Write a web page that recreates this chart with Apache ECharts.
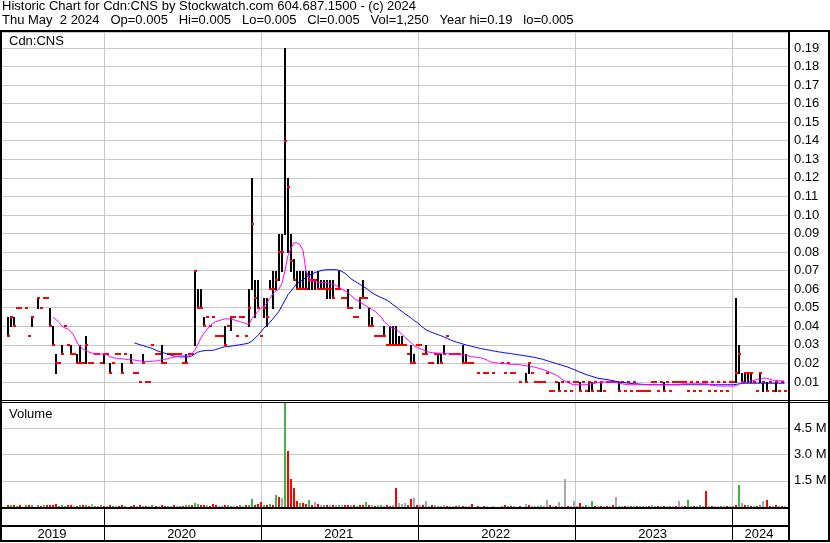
<!DOCTYPE html>
<html>
<head>
<meta charset="utf-8">
<script src="https://cdn.jsdelivr.net/npm/echarts@6/dist/echarts.min.js"></script>
<style>
  html, body { margin: 0; padding: 0; background: #fff; }
  #chart { width: 830px; height: 543px; }
</style>
</head>
<body>
<div id="chart"></div>
<script>
// ---- Weekly price history for Cdn:CNS (one entry per week, null = no trades) ----
const firstWeek = Date.UTC(2019, 4, 9);
const axisStart = Date.UTC(2019, 4, 9);
const axisEnd = Date.UTC(2024, 4, 10);

const high = [
  null,null,.045,.045,.045,.05,.05,null,.05,.035,
  .045,null,.055,.05,.055,.055,.05,.04,.025,.02,
  .03,.04,.03,.03,.025,.025,.03,.02,.035,.02,
  .02,.025,.025,.02,.025,.025,.02,.02,.025,.025,
  .02,.025,null,.025,.015,.015,.01,.025,.01,.01,
  .03,.025,.025,.03,.02,.025,.025,.025,.025,.025,
  .02,.025,.025,.025,.07,.06,.06,.045,.045,.04,
  .045,.035,.035,.035,.04,.04,.045,.045,.035,.045,
  .045,.035,.06,.12,.065,.065,.035,.055,.055,.065,
  .07,.07,.09,.09,.19,.12,.09,.076,.07,.07,
  .07,.07,.07,.07,.065,.07,.065,.065,.065,.065,
  .065,.06,.07,.055,.055,.06,.05,.045,.045,.055,
  .065,.055,.05,.045,.035,.035,.035,.04,.03,.04,
  .04,.04,.035,.035,.03,.025,.03,.025,.03,.03,
  .025,.03,.02,.02,.025,.025,.025,.03,.035,.025,
  .025,.025,.025,.03,.025,.02,.02,null,.015,null,
  .015,.015,null,.015,null,null,.02,.015,.02,.015,
  .015,null,.01,null,.015,.02,.015,.01,.01,.01,
  .01,.015,.005,.005,.01,.01,.01,.005,.01,.005,
  .01,.01,.01,.01,.005,.01,.01,.01,.005,.01,
  .005,.01,.01,.01,.01,.01,.01,.005,.01,.005,
  .01,.005,.005,.005,.005,.005,.01,.01,.005,.01,
  .01,.01,.005,.01,.01,.01,.01,.01,.005,.01,
  .005,.01,.005,.01,.01,.005,.01,.005,.01,.005,
  .01,.005,.01,.01,.055,.03,.015,.015,.015,.015,
  .01,.005,.015,.01,.01,.01,.005,.01,.005,.01,.005
];
const low = [
  null,null,.035,.04,.04,.05,.05,null,.05,.035,
  .04,null,.05,.05,.055,.055,.04,.03,.015,.02,
  .025,.04,.03,.025,.025,.02,.02,.02,.02,.02,
  .02,.025,.025,.02,.02,.025,.015,.02,.025,.025,
  .015,.025,null,.02,.015,.015,.01,.02,.01,.01,
  .03,.025,.025,.02,.02,.025,.025,.025,.025,.025,
  .02,.02,.025,.025,.03,.05,.05,.04,.045,.04,
  .045,.035,.035,.035,.03,.04,.038,.045,.035,.045,
  .045,.035,.04,.06,.045,.05,.035,.045,.04,.06,
  .05,.06,.065,.07,.09,.08,.07,.065,.06,.06,
  .06,.06,.06,.06,.06,.06,.06,.06,.055,.055,
  .055,.06,.06,.055,.055,.05,.05,.045,.045,.05,
  .055,.055,.04,.04,.035,.035,.035,.035,.03,.03,
  .03,.03,.03,.03,.03,.025,.02,.02,.03,.03,
  .025,.025,.02,.02,.025,.02,.02,.025,.035,.025,
  .025,.025,.025,.02,.02,.02,.02,null,.015,null,
  .015,.015,null,.015,null,null,.02,.015,.02,.015,
  .015,null,.01,null,.01,.015,.015,.01,.01,.01,
  .01,.015,.005,.005,.01,.005,.01,.005,.01,.005,
  .01,.01,.005,.01,.005,.005,.005,.01,.005,.005,
  .005,.01,.01,.01,.01,.005,.01,.005,.01,.005,
  .01,.005,.005,.005,.005,.005,.01,.01,.005,.01,
  .005,.01,.005,.01,.01,.01,.01,.01,.005,.01,
  .005,.01,.005,.01,.01,.005,.01,.005,.01,.005,
  .01,.005,.01,.01,.01,.015,.01,.01,.01,.01,
  .01,.005,.01,.005,.005,.01,.005,.005,.005,.01,.005
];
const close = [
  null,null,.035,.045,.04,.05,.05,null,.05,.035,
  .045,null,.055,.05,.055,.055,.04,.03,.02,.02,
  .025,.04,.03,.025,.025,.02,.02,.02,.03,.02,
  .02,.025,.025,.02,.025,.025,.015,.02,.025,.025,
  .015,.025,null,.02,.015,.015,.01,.02,.01,.01,
  .03,.025,.025,.02,.02,.025,.025,.025,.025,.025,
  .02,.02,.025,.025,.07,.05,.05,.04,.045,.04,
  .045,.035,.035,.035,.03,.04,.045,.045,.035,.045,
  .045,.035,.05,.095,.055,.05,.035,.05,.045,.06,
  .06,.065,.08,.08,.14,.115,.075,.065,.06,.06,
  .06,.06,.065,.065,.065,.06,.06,.06,.06,.06,
  .055,.06,.06,.055,.055,.05,.05,.045,.045,.055,
  .055,.055,.04,.04,.035,.035,.035,.035,.03,.03,
  .03,.03,.03,.03,.03,.025,.02,.02,.03,.03,
  .025,.025,.02,.02,.025,.025,.02,.025,.035,.025,
  .025,.025,.025,.02,.02,.02,.02,null,.015,null,
  .015,.015,null,.015,null,null,.02,.015,.02,.015,
  .015,null,.01,null,.01,.02,.015,.01,.01,.01,
  .01,.015,.005,.005,.01,.005,.01,.005,.01,.005,
  .01,.01,.005,.01,.005,.01,.005,.01,.005,.01,
  .005,.01,.01,.01,.01,.005,.01,.005,.01,.005,
  .01,.005,.005,.005,.005,.005,.01,.01,.005,.01,
  .005,.01,.005,.01,.01,.01,.01,.01,.005,.01,
  .005,.01,.005,.01,.01,.005,.01,.005,.01,.005,
  .01,.005,.01,.01,.015,.025,.01,.015,.015,.015,
  .01,.005,.015,.01,.005,.01,.005,.01,.005,.01,.005
];

// Short moving average (magenta)
const maShort = [
  null,null,null,null,null,null,null,null,null,null,
  null,null,null,null,null,null,null,.045,.0435,.042,
  .040,.039,.0385,.037,.0345,.031,.029,.0275,.027,.026,
  .0255,.025,.025,.025,.025,.0245,.0235,.023,.0228,.0225,
  .0225,.0222,.022,.022,.0218,.0215,.0213,.021,.021,.021,
  .0212,.0213,.0215,.022,.0222,.0225,.023,.0232,.0238,.024,
  .024,.024,.024,.025,.027,.030,.0335,.036,.038,.040,
  .0415,.0425,.043,.0435,.044,.044,.0438,.0435,.043,.0425,
  .042,.0415,.041,.044,.046,.048,.0495,.051,.0525,.055,
  .0575,.059,.060,.063,.070,.078,.082,.085,.085,.084,
  .081,.070,.066,.064,.064,.0638,.0636,.0635,.0635,.063,
  .0625,.062,.061,.060,.059,.058,.0565,.055,.054,.053,
  .052,.051,.050,.049,.048,.0465,.045,.0425,.041,.0395,
  .039,.0385,.037,.0355,.034,.0325,.031,.0295,.0285,.028,
  .0272,.0265,.026,.0258,.0256,.0255,.0255,.0253,.0252,.025,
  .025,.0248,.0247,.0246,.0245,.024,.0237,.0234,.0232,.023,
  .0225,.022,.021,.0205,.0203,.0201,.020,.0198,.0197,.0195,
  .0195,.0194,.0193,.019,.0188,.0185,.0183,.018,.0175,.017,
  .0165,.016,.0152,.0145,.0138,.0128,.0115,.0105,.0097,.009,
  .0085,.0085,.0085,.0085,.0085,.0087,.009,.0093,.0097,.010,
  .010,.010,.010,.010,.0098,.0093,.009,.0087,.0085,.0085,
  .0085,.0085,.0085,.0085,.0085,.0085,.0085,.0085,.0085,.0085,
  .0085,.0085,.0085,.0085,.0085,.0085,.009,.009,.009,.009,
  .009,.009,.009,.009,.009,.0085,.0082,.008,.0078,.0078,
  .0078,.0078,.0078,.0078,.008,.009,.0097,.0098,.010,.0105,
  .011,.0112,.0115,.012,.012,.0115,.011,.0108,.0107,.0106,.0105
];

// Long moving average (blue)
const maLong = [
  null,null,null,null,null,null,null,null,null,null,
  null,null,null,null,null,null,null,null,null,null,
  null,null,null,null,null,null,null,null,null,null,
  null,null,null,null,null,null,null,null,null,null,
  null,null,null,null,.031,.0305,.030,.0295,.029,.0285,
  .028,.0272,.0265,.026,.0255,.025,.0245,.024,.0237,.0235,
  .0235,.0235,.0235,.024,.025,.026,.0265,.0268,.027,.027,
  .027,.0275,.028,.0285,.029,.029,.0293,.0295,.0298,.030,
  .0303,.0306,.031,.032,.0335,.035,.037,.039,.0405,.042,
  .044,.046,.048,.051,.054,.057,.059,.061,.063,.064,
  .065,.0665,.0675,.068,.069,.0695,.070,.0703,.0705,.0705,
  .0705,.0705,.0702,.0695,.0685,.067,.0655,.0645,.0635,.0625,
  .0615,.0605,.0592,.058,.057,.0562,.0555,.0548,.054,.0528,
  .0515,.0505,.049,.0478,.0465,.0455,.0443,.043,.042,.0405,
  .0392,.038,.0373,.0366,.036,.0354,.0348,.0341,.0334,.0327,
  .032,.0315,.031,.0305,.030,.0296,.0292,.0288,.0284,.028,
  .0277,.0274,.0271,.0268,.0265,.0262,.026,.0257,.0255,.0253,
  .025,.0248,.0245,.0243,.024,.0238,.0235,.0232,.0228,.0225,
  .022,.0215,.021,.0205,.020,.0195,.019,.0185,.018,.0173,
  .0167,.016,.0153,.0147,.014,.0135,.013,.0125,.012,.0117,
  .0115,.0113,.011,.0107,.0103,.010,.0098,.0096,.0094,.0092,
  .009,.009,.0088,.0087,.0086,.0085,.0085,.0085,.0085,.0085,
  .0085,.0085,.0085,.0085,.0085,.0085,.0085,.0085,.0085,.0085,
  .0085,.0085,.0085,.0085,.0085,.0085,.0085,.0085,.0085,.0085,
  .0085,.0085,.0085,.0085,.0087,.009,.0092,.0093,.0093,.0093,
  .0093,.0093,.0093,.0093,.0093,.0093,.0093,.0093,.0093,.0093,.0093
];

// Weekly volume in millions of shares
const volume = [
  0,0,.12,.10,.14,.08,.12,0,.11,.09,
  .10,0,.12,.08,.09,.11,.14,.12,.20,.08,
  .10,.08,.09,.11,.08,.07,.10,.09,.11,.08,
  .18,.08,.07,.10,.08,.07,.09,.08,.07,.08,
  .09,.07,0,.08,.10,.07,.09,.08,.07,.08,
  .09,.08,.07,.10,.07,.08,.07,.09,.08,.07,
  .08,.10,.09,.11,.22,.17,.12,.10,.09,.08,
  .17,.09,.08,.07,.10,.09,.08,.07,.08,.09,
  .08,.10,.14,.45,.12,.17,.30,.14,.12,.17,
  .14,.70,.60,.50,6.2,3.2,1.6,1.1,.35,.25,
  .22,.17,.40,.14,.30,.17,.12,.14,.10,.12,
  .10,.12,.14,.09,.10,.12,.11,.09,.08,.10,
  .10,.30,.12,.10,.08,.09,.10,.08,.09,.07,
  .10,1.10,.22,.17,.24,.12,.45,.50,.12,.10,
  .09,.35,.08,.10,.09,.08,.07,.10,.08,.07,
  .08,.07,.09,.08,.07,.08,.20,0,.08,0,
  .08,.07,0,.08,0,0,.07,.09,.07,.08,
  .07,0,.08,0,.20,.10,.07,.08,.07,.09,
  .07,.40,.10,.07,.08,.28,.07,1.60,.08,.07,
  .35,.08,.22,.07,.09,.08,.35,.07,.08,.07,
  .07,.08,.07,.09,.60,.07,.08,.07,.08,.07,
  .07,.08,.07,.07,.08,.07,.09,.07,.08,.07,
  .08,.07,.07,.08,.07,.35,.07,.08,.40,.07,
  .08,.07,.09,.07,.90,.07,.08,.07,.08,.07,
  .07,.08,.07,.08,.09,1.27,.25,.10,.12,.08,
  .07,.08,.09,.35,.40,.08,.07,.10,.08,.07,.03
];

// Volume bar direction per week: u = up, d = down, n = unchanged
const volumeDir = (
  'nndududnud' + 'unududdddu' + 'uuddndudud' + 'nunudndund' + 'dunddndudn' +
  'udnddundnu' + 'duuduuddnd' + 'ddnnduundu' + 'nduudddudu' + 'dudnuddddu' +
  'ddudndnudn' + 'dnunddndud' + 'dudndnundd' + 'ndnnnddndn' + 'dnndnunndn' +
  'ndndnndndn' + 'dnnnnnudnd' + 'nndnndnnun' + 'nndndnnndn' + 'nndnunudnd' +
  'ndndnundnu' + 'ndnundnndn' + 'dnundnndun' + 'dnundndnnu' + 'ndnudundud' +
  'ndunddndnd' + 'n'
).split('');

const yearLabels = [2019, 2020, 2021, 2022, 2023, 2024];
const priceTickStep = 0.01;
const volumeTickStep = 1.5;

const headerLine1 = 'Historic Chart for Cdn:CNS by Stockwatch.com 604.687.1500 - (c) 2024';
const headerLine2 = 'Thu May  2 2024   Op=0.005   Hi=0.005   Lo=0.005   Cl=0.005   Vol=1,250   Year hi=0.19   lo=0.005';

// ---- Derived series rows ----
const DAY = 86400000;
const weekTime = i => firstWeek + i * 7 * DAY;

const priceRows = [];
close.forEach((c, i) => {
  if (c != null) priceRows.push([weekTime(i), high[i], low[i], c]);
});
const shortRows = maShort.map((v, i) => [weekTime(i), v]);
const longRows = maLong.map((v, i) => [weekTime(i), v]);
const volRows = [];
const volDirRows = [];
volume.forEach((v, i) => {
  if (v > 0) { volRows.push([weekTime(i), v]); volDirRows.push(volumeDir[i]); }
});
const yearBoundaries = yearLabels.slice(1).map(y => [Date.UTC(y, 0, 1)]);
const yearRows = yearLabels.map(y => [Date.UTC(y, 0, 1), y]);

const FONT = '"Liberation Sans", Arial, sans-serif';
const GRID_GRAY = '#c8c8c8';
const VOL_COLORS = { u: '#44b444', d: '#ff0000', n: '#a8a8a8' };

function yearLineItem(params, api) {
  const cs = params.coordSys;
  const x = Math.round(api.coord([api.value(0), 0])[0]) + 0.5;
  return {
    type: 'line',
    shape: { x1: x, y1: cs.y, x2: x, y2: cs.y + cs.height },
    style: { stroke: GRID_GRAY, lineWidth: 1 }
  };
}

const chart = echarts.init(document.getElementById('chart'), null, { renderer: 'canvas' });

chart.setOption({
  animation: false,
  backgroundColor: '#ffffff',
  grid: [
    { left: 2, top: 32, width: 786, height: 368.5 },
    { left: 2, top: 402, width: 786, height: 105 },
    { left: 2, top: 509, width: 786, height: 32 }
  ],
  xAxis: [0, 1, 2].map(k => ({
    type: 'time', gridIndex: k, min: axisStart, max: axisEnd, show: false
  })),
  yAxis: [
    {
      type: 'value', gridIndex: 0, position: 'right', min: 0, max: 0.1986, interval: priceTickStep,
      axisLine: { show: false }, axisTick: { show: false },
      axisLabel: {
        margin: 6, color: '#000', fontSize: 13, fontFamily: FONT,
        showMinLabel: false, showMaxLabel: false,
        formatter: v => v.toFixed(2)
      },
      splitLine: { lineStyle: { color: GRID_GRAY, width: 1 } }
    },
    {
      type: 'value', gridIndex: 1, position: 'right', min: 0, max: 6, interval: volumeTickStep,
      axisLine: { show: false }, axisTick: { show: false },
      axisLabel: {
        margin: 6, color: '#000', fontSize: 13, fontFamily: FONT,
        formatter: v => (v > 0 && v < 6) ? v.toFixed(1) + ' M' : ''
      },
      splitLine: { lineStyle: { color: GRID_GRAY, width: 1 } }
    },
    { type: 'value', gridIndex: 2, min: 0, max: 1, show: false }
  ],
  series: [
    // year grid lines in the price panel
    {
      type: 'custom', xAxisIndex: 0, yAxisIndex: 0, z: 1, silent: true,
      data: yearBoundaries, renderItem: yearLineItem
    },
    // year grid lines in the volume panel
    {
      type: 'custom', xAxisIndex: 1, yAxisIndex: 1, z: 1, silent: true,
      data: yearBoundaries, renderItem: yearLineItem
    },
    // high-low bars with close ticks
    {
      type: 'custom', xAxisIndex: 0, yAxisIndex: 0, z: 2, silent: true,
      data: priceRows,
      encode: { x: 0, y: 3 },
      renderItem(params, api) {
        const t = api.value(0);
        const pHi = api.coord([t, api.value(1)]);
        const pLo = api.coord([t, api.value(2)]);
        const pCl = api.coord([t, api.value(3)]);
        const px = Math.round(pHi[0]);
        const yH = Math.round(pHi[1]);
        const yL = Math.round(pLo[1]);
        const yC = Math.round(pCl[1]);
        const children = [];
        if (yL - yH >= 1) {
          children.push({
            type: 'rect', shape: { x: px - 1, y: yH, width: 2, height: yL - yH + 1 },
            style: { fill: '#000' }
          });
        }
        children.push({
          type: 'rect', shape: { x: px - 1, y: yC - 1, width: 3, height: 2 },
          style: { fill: '#ff0000' }
        });
        return { type: 'group', children };
      }
    },
    {
      type: 'line', xAxisIndex: 0, yAxisIndex: 0, z: 3, silent: true,
      data: longRows, showSymbol: false, connectNulls: false,
      lineStyle: { color: '#0000ff', width: 1 }
    },
    {
      type: 'line', xAxisIndex: 0, yAxisIndex: 0, z: 4, silent: true,
      data: shortRows, showSymbol: false, connectNulls: false,
      lineStyle: { color: '#ff00ff', width: 1 }
    },
    // volume bars
    {
      type: 'custom', xAxisIndex: 1, yAxisIndex: 1, z: 2, silent: true,
      data: volRows,
      encode: { x: 0, y: 1 },
      renderItem(params, api) {
        const cs = params.coordSys;
        const t = api.value(0);
        const top = api.coord([t, api.value(1)]);
        const base = api.coord([t, 0]);
        const px = Math.round(top[0]);
        const yT = Math.round(top[1]);
        const yB = Math.round(base[1]);
        const rect = echarts.graphic.clipRectByRect(
          { x: px - 1, y: yT, width: 2, height: Math.max(1, yB - yT) },
          { x: cs.x, y: cs.y, width: cs.width, height: cs.height }
        );
        if (!rect) return null;
        return {
          type: 'rect', shape: rect,
          style: { fill: VOL_COLORS[volDirRows[params.dataIndex]] }
        };
      }
    },
    // year separators and labels in the bottom strip
    {
      type: 'custom', xAxisIndex: 2, yAxisIndex: 2, z: 5, silent: true,
      data: yearRows,
      renderItem(params, api) {
        const cs = params.coordSys;
        const y = api.value(1);
        const start = Math.max(api.value(0), axisStart);
        const end = Math.min(Date.UTC(y + 1, 0, 1), axisEnd);
        const xs = api.coord([start, 0])[0];
        const xe = api.coord([end, 0])[0];
        const children = [];
        if (api.value(0) > axisStart) {
          const lx = Math.round(xs) + 0.5;
          children.push({
            type: 'line', shape: { x1: lx, y1: cs.y, x2: lx, y2: cs.y + cs.height },
            style: { stroke: '#000', lineWidth: 1 }
          });
        }
        children.push({
          type: 'text', x: (xs + xe) / 2 - 1, y: cs.y + 25.5,
          style: {
            text: String(y), fill: '#000', font: '13px ' + FONT,
            align: 'center', verticalAlign: 'middle',
            textAlign: 'center', textVerticalAlign: 'middle'
          }
        });
        return { type: 'group', children };
      }
    }
  ],
  graphic: [
    {
      type: 'text', left: 2, top: 0, z: 100, silent: true,
      style: { text: headerLine1, fill: '#000', font: '13px ' + FONT }
    },
    {
      type: 'text', left: 2, top: 14, z: 100, silent: true,
      style: { text: headerLine2, fill: '#000', font: '13px ' + FONT }
    },
    {
      type: 'text', left: 9, top: 35, z: 100, silent: true,
      style: { text: 'Cdn:CNS', fill: '#000', font: '13px ' + FONT }
    },
    {
      type: 'text', left: 9, top: 408, z: 100, silent: true,
      style: { text: 'Volume', fill: '#000', font: '13px ' + FONT }
    },
    // frame
    { type: 'rect', z: 100, silent: true, shape: { x: 0, y: 30, width: 830, height: 2 }, style: { fill: '#000' } },
    { type: 'rect', z: 100, silent: true, shape: { x: 0, y: 30, width: 2, height: 512 }, style: { fill: '#000' } },
    { type: 'rect', z: 100, silent: true, shape: { x: 788, y: 30, width: 2, height: 512 }, style: { fill: '#000' } },
    { type: 'rect', z: 100, silent: true, shape: { x: 828, y: 30, width: 2, height: 512 }, style: { fill: '#000' } },
    { type: 'rect', z: 100, silent: true, shape: { x: 0, y: 400, width: 830, height: 1 }, style: { fill: '#000' } },
    { type: 'rect', z: 100, silent: true, shape: { x: 0, y: 402, width: 830, height: 1 }, style: { fill: '#000' } },
    { type: 'rect', z: 100, silent: true, shape: { x: 0, y: 507, width: 790, height: 2 }, style: { fill: '#000' } },
    { type: 'rect', z: 100, silent: true, shape: { x: 0, y: 525, width: 790, height: 2 }, style: { fill: '#000' } },
    { type: 'rect', z: 100, silent: true, shape: { x: 0, y: 540, width: 830, height: 2 }, style: { fill: '#000' } }
  ]
});
</script>
</body>
</html>
